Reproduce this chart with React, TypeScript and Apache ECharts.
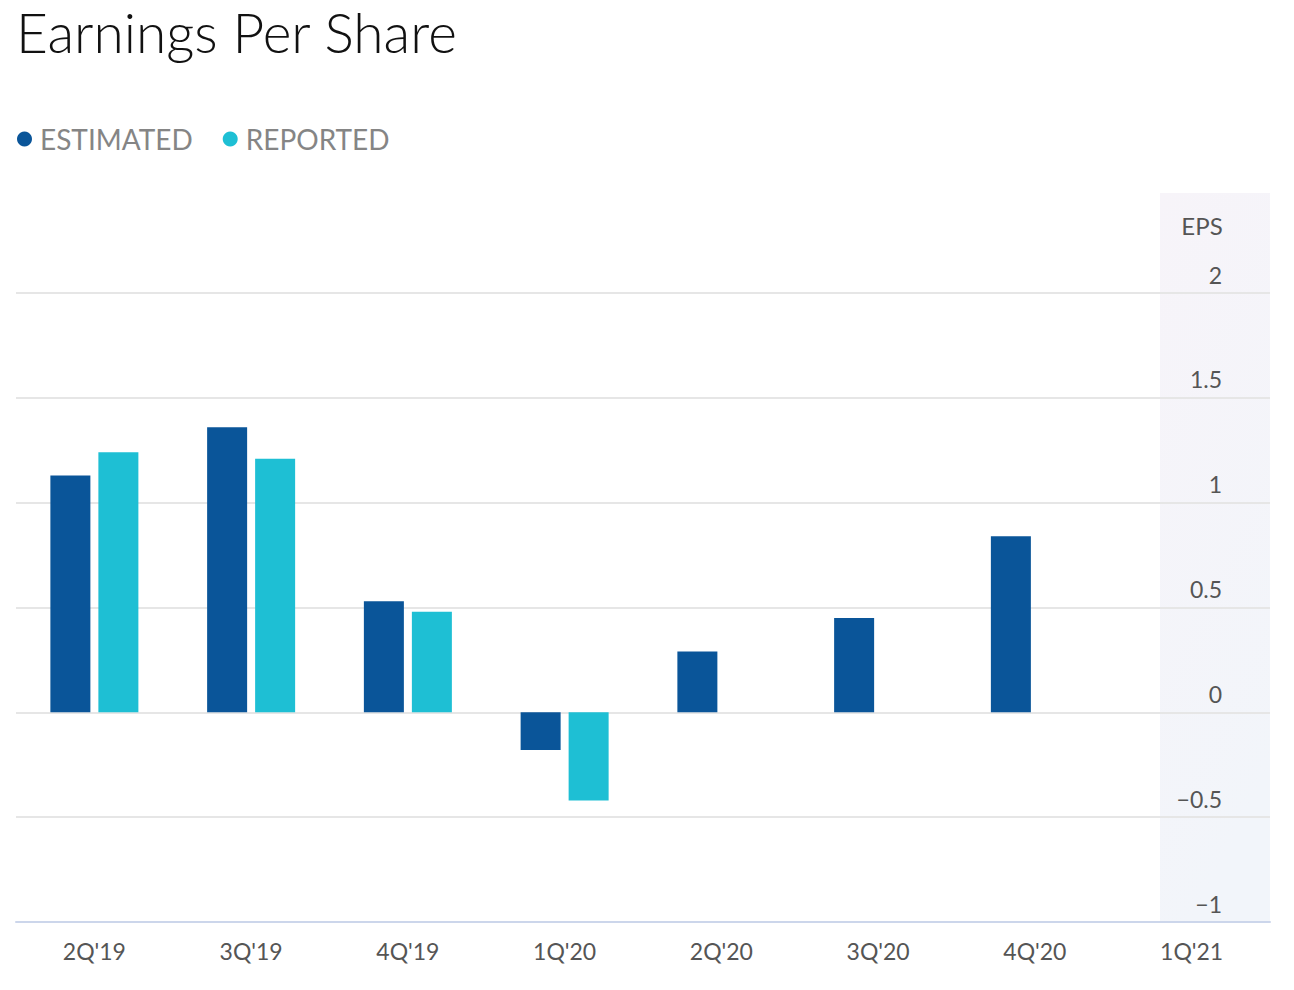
import React, { useEffect, useRef } from "react";
import * as echarts from "echarts";

const categories = ["2Q'19", "3Q'19", "4Q'19", "1Q'20", "2Q'20", "3Q'20", "4Q'20", "1Q'21"];
const estimated = [1.13, 1.36, 0.53, -0.18, 0.29, 0.45, 0.84, null];
const reported = [1.24, 1.21, 0.48, -0.42, null, null, null, null];
const yTicks = { min: -1, max: 2, interval: 0.5 };

const FONT = "Lato, 'Open Sans', sans-serif";

export default function App() {
  const ref = useRef<HTMLDivElement>(null);
  useEffect(() => {
    document.body.style.margin = "0";
    const chart = echarts.init(ref.current!, null, { renderer: "svg" });
    chart.setOption({
      animation: false,
      backgroundColor: "#ffffff",
      title: {
        text: "Earnings Per Share",
        left: 16,
        top: 1,
        padding: 0,
        textStyle: { fontFamily: FONT, fontSize: 55, lineHeight: 62, fontWeight: 300, color: "#111111" },
      },
      legend: {
        left: 12,
        top: 120,
        icon: "circle",
        itemWidth: 15,
        itemHeight: 15,
        itemGap: 30,
        textStyle: { fontFamily: FONT, fontSize: 28, color: "#858585", padding: [0, 0, 0, 3] },
        data: ["ESTIMATED", "REPORTED"],
      },
      graphic: [
        {
          type: "rect",
          z: -10,
          shape: { x: 1160, y: 193, width: 110, height: 729 },
          style: {
            fill: new echarts.graphic.LinearGradient(0, 0, 0.3, 1, [
              { offset: 0, color: "#f7f4f9" },
              { offset: 1, color: "#f2f5fa" },
            ]),
          },
        },
        {
          type: "text",
          x: 1202,
          y: 225,
          style: {
            text: "EPS",
            fontFamily: FONT,
            fontSize: 24,
            fill: "#555555",
            textAlign: "center",
            textVerticalAlign: "middle",
          },
        },
      ],
      grid: { left: 16, right: 24, top: 293, bottom: 68 },
      xAxis: {
        type: "category",
        data: categories,
        axisLine: { onZero: false, lineStyle: { color: "#ccd6eb", width: 2 } },
        axisTick: { show: false },
        axisLabel: { fontFamily: FONT, fontSize: 23, color: "#555555", margin: 17 },
        splitLine: { show: false },
      },
      yAxis: {
        type: "value",
        position: "right",
        min: yTicks.min,
        max: yTicks.max,
        interval: yTicks.interval,
        axisLine: { show: false },
        axisTick: { show: false },
        splitLine: { lineStyle: { color: "#e6e6e6", width: 2 } },
        axisLabel: {
          inside: true,
          margin: 48,
          align: "right",
          verticalAlign: "bottom",
          padding: [0, 0, 7, 0],
          fontFamily: FONT,
          fontSize: 23,
          color: "#555555",
          formatter: (v: number) => String(v).replace("-", "\u2212"),
        },
      },
      series: [
        {
          name: "ESTIMATED",
          type: "bar",
          data: estimated,
          barWidth: 40,
          barGap: "20%",
          itemStyle: { color: "#0a5599" },
        },
        {
          name: "REPORTED",
          type: "bar",
          data: reported,
          barWidth: 40,
          barGap: "20%",
          itemStyle: { color: "#1ebfd4" },
        },
      ],
    });
    return () => chart.dispose();
  }, []);
  return <div ref={ref} style={{ width: 1294, height: 990 }} />;
}
